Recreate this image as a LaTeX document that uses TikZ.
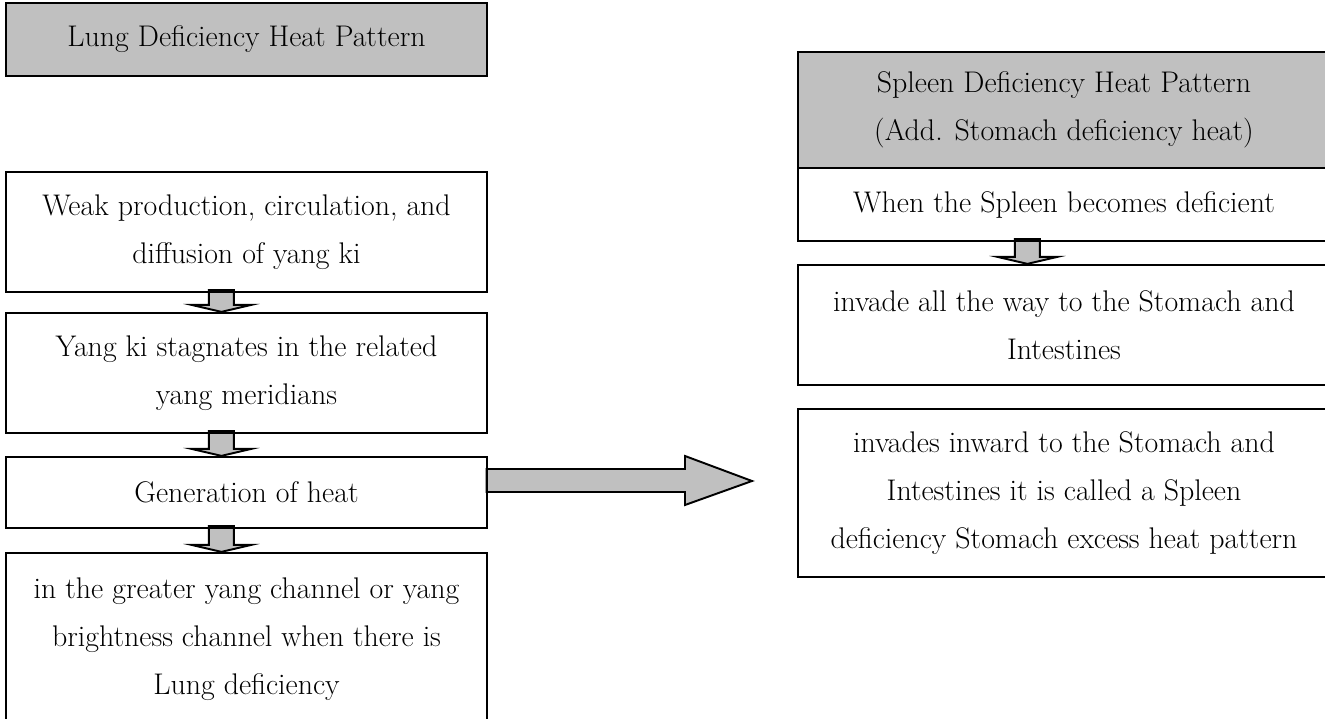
\documentclass[tikz,border=0pt]{standalone}
\usepackage{tikz}
\usetikzlibrary{calc,backgrounds}
\definecolor{boxgray}{RGB}{192,192,192}
\tikzstyle{box}=[draw, rectangle, line width=1.3pt, align=center, font=\fontsize{17}{27.3}\selectfont]
\tikzstyle{lbox}=[box, minimum width=9.62cm]
\tikzstyle{rbox}=[box, minimum width=10.64cm]
\tikzstyle{fat}=[draw, line width=1.1pt, fill=boxgray, line join=miter]
% small block arrow from the bottom of #1 to the top of #2, #3 = offset from the west side
\newcommand{\fatdown}[3]{%
  \path ($(#1.south west)+(#3,-3)$) coordinate (ft) (ft |- #2.north) coordinate (fb);
  \draw[fat] ($(ft)+(-12.5,0)$) -- ($(fb)+(-12.5,-7)$) -- ($(fb)+(-30,-7)$) -- (fb)
    -- ($(fb)+(30,-7)$) -- ($(fb)+(12.5,-7)$) -- ($(ft)+(12.5,0)$) -- cycle;}

\begin{document}
\begin{tikzpicture}[x=0.02cm, y=-0.02cm]
  \useasboundingbox (0,0) rectangle (1325,719);
  %\draw [help lines, step=50] (0,0) grid (1325,719);

  % left column
  \node[lbox, fill=boxgray, minimum height=1.46cm] (lung) at (246.5, 39.5) {Lung Deficiency Heat Pattern};
  \node[lbox, minimum height=2.4cm] (l1) at (246.5, 232) {Weak production, circulation, and\\diffusion of yang ki};
  \node[lbox, minimum height=2.4cm] (l2) at (246.5, 373) {Yang ki stagnates in the related\\yang meridians};
  \node[lbox, minimum height=1.42cm] (l3) at (246.5, 492.5) {Generation of heat};
  \node[lbox, minimum height=3.44cm] (l4) at (246.5, 639) {in the greater yang channel or yang\\brightness channel when there is\\Lung deficiency};

  % right column
  \node[rbox, fill=boxgray, minimum height=2.32cm] (spleen) at (1064, 110) {Spleen Deficiency Heat Pattern\\(Add. Stomach deficiency heat)};
  \node[rbox, minimum height=1.46cm] (r1) at (1064, 204.5) {When the Spleen becomes deficient};
  \node[rbox, minimum height=2.4cm] (r2) at (1064, 325) {invade all the way to the Stomach and\\Intestines};
  \node[rbox, minimum height=3.36cm] (r3) at (1064, 493) {invades inward to the Stomach and\\Intestines it is called a Spleen\\deficiency Stomach excess heat pattern};

  \coordinate (tip) at (752, 481);

  \begin{pgfonlayer}{background}
    \fatdown{l1}{l2}{216.5}
    \fatdown{l2}{l3}{216.5}
    \fatdown{l3}{l4}{216.5}
    \fatdown{r1}{r2}{230.5}
    \draw[fat] ($(l3.east |- tip)+(-1.5,-12)$) -- ($(tip)+(-67,-12)$) -- ($(tip)+(-67,-25)$) -- (tip)
      -- ($(tip)+(-67,24)$) -- ($(tip)+(-67,11)$) -- ($(l3.east |- tip)+(-1.5,11)$) -- cycle;
  \end{pgfonlayer}

\end{tikzpicture}
\end{document}
